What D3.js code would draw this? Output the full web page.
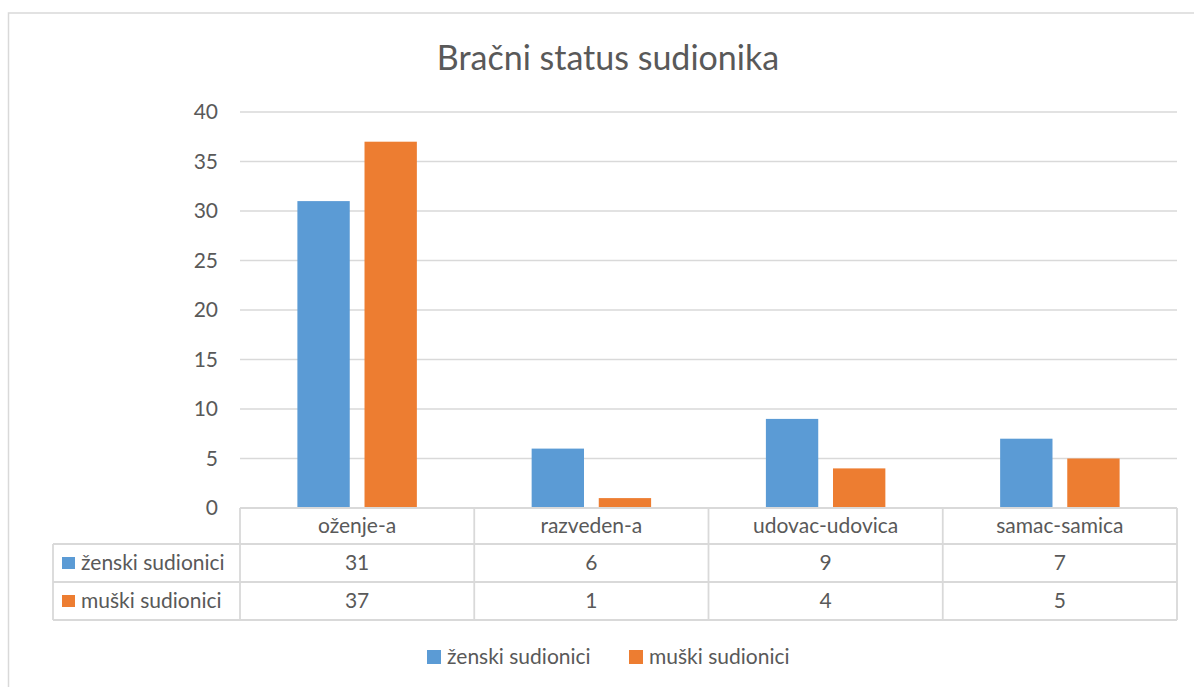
<!DOCTYPE html>
<html>
<head>
  <meta charset="utf-8">
  <title>Bračni status sudionika</title>
  <script src="https://d3js.org/d3.v7.min.js"></script>
  <style>
    body { margin: 0; background: #fff; }
    text { font-family: Lato, "Open Sans", sans-serif; fill: #595959; }
    .grid line { stroke: #d9d9d9; stroke-width: 1.3px; }
    .tbl line { stroke: #d9d9d9; stroke-width: 1.8px; }
  </style>
</head>
<body>
<div id="chart"></div>
<script>
// data
var categories = ["oženje-a", "razveden-a", "udovac-udovica", "samac-samica"];
var seriesNames = ["ženski sudionici", "muški sudionici"];
var zenski = [31, 6, 9, 7];
var muski = [37, 1, 4, 5];
var yTicks = [0, 5, 10, 15, 20, 25, 30, 35, 40];
var title = "Bračni status sudionika";

var colors = ["#5b9bd5", "#ed7d31"];
var values = [zenski, muski];

var W = 1194, H = 687;
var plot = { left: 240, right: 1177, top: 112, bottom: 508 };
var rowH = [36, 38, 38];   // category row, series rows
var tblLeft = 53;
var fs = "21px";

var svg = d3.select("#chart").append("svg")
  .attr("width", W).attr("height", H);

// outer frame
svg.append("rect")
  .attr("x", 8.5).attr("y", 13)
  .attr("width", W + 20).attr("height", H + 20)
  .attr("fill", "none").attr("stroke", "#d9d9d9").attr("stroke-width", 1.5);

svg.append("text")
  .attr("x", 608).attr("y", 70)
  .attr("text-anchor", "middle")
  .style("font-size", "34px")
  .style("font-weight", 400)
  .text(title);

var x = d3.scaleBand().domain(categories).range([plot.left, plot.right]);
var xs = d3.scaleBand().domain(seriesNames)
  .range([x.bandwidth() * 0.245, x.bandwidth() * 0.755])
  .paddingInner(0.22);
var y = d3.scaleLinear().domain([0, 40]).range([plot.bottom, plot.top]);

// gridlines
var grid = svg.append("g").attr("class", "grid");
grid.selectAll("line").data(yTicks.filter(function(d) { return d > 0; }))
  .enter().append("line")
  .attr("x1", plot.left).attr("x2", plot.right)
  .attr("y1", function(d) { return y(d); })
  .attr("y2", function(d) { return y(d); });

// y labels
svg.append("g").selectAll("text").data(yTicks)
  .enter().append("text")
  .attr("x", 218)
  .attr("y", function(d) { return y(d); })
  .attr("dy", "0.35em")
  .attr("text-anchor", "end")
  .style("font-size", fs)
  .text(function(d) { return d; });

// bars
seriesNames.forEach(function(s, si) {
  svg.append("g").selectAll("rect").data(values[si])
    .enter().append("rect")
    .attr("x", function(d, i) { return x(categories[i]) + xs(s); })
    .attr("width", xs.bandwidth())
    .attr("y", function(d) { return y(d); })
    .attr("height", function(d) { return y(0) - y(d); })
    .attr("fill", colors[si]);
});

// data table
var r0 = plot.bottom, r1 = r0 + rowH[0], r2 = r1 + rowH[1], r3 = r2 + rowH[2];
var tbl = svg.append("g").attr("class", "tbl");
tbl.append("line").attr("x1", plot.left).attr("x2", plot.right).attr("y1", r0).attr("y2", r0);
[r1, r2, r3].forEach(function(ry) {
  tbl.append("line").attr("x1", tblLeft).attr("x2", plot.right).attr("y1", ry).attr("y2", ry);
});
tbl.append("line").attr("x1", tblLeft).attr("x2", tblLeft).attr("y1", r1).attr("y2", r3);
categories.concat([null]).forEach(function(c) {
  var vx = c === null ? plot.right : x(c);
  tbl.append("line").attr("x1", vx).attr("x2", vx).attr("y1", r0).attr("y2", r3);
});

svg.append("g").selectAll("text").data(categories)
  .enter().append("text")
  .attr("x", function(d) { return x(d) + x.bandwidth() / 2; })
  .attr("y", (r0 + r1) / 2)
  .attr("dy", "0.35em")
  .attr("text-anchor", "middle")
  .style("font-size", fs)
  .text(function(d) { return d; });

var rowMid = [(r1 + r2) / 2, (r2 + r3) / 2];
seriesNames.forEach(function(s, si) {
  svg.append("rect")
    .attr("x", 62).attr("y", rowMid[si] - 6)
    .attr("width", 13).attr("height", 12)
    .attr("fill", colors[si]);
  svg.append("text")
    .attr("x", 81).attr("y", rowMid[si])
    .attr("dy", "0.35em")
    .style("font-size", fs)
    .text(s);
  svg.append("g").selectAll("text").data(values[si])
    .enter().append("text")
    .attr("x", function(d, i) { return x(categories[i]) + x.bandwidth() / 2; })
    .attr("y", rowMid[si])
    .attr("dy", "0.35em")
    .attr("text-anchor", "middle")
    .style("font-size", fs)
    .text(function(d) { return d; });
});

// legend
var legX = [427, 629];
var legend = svg.append("g");
seriesNames.forEach(function(s, si) {
  legend.append("rect")
    .attr("x", legX[si]).attr("y", 650)
    .attr("width", 14).attr("height", 14)
    .attr("fill", colors[si]);
  legend.append("text")
    .attr("x", legX[si] + 20).attr("y", 657)
    .attr("dy", "0.35em")
    .style("font-size", fs)
    .text(s);
});
</script>
</body>
</html>
